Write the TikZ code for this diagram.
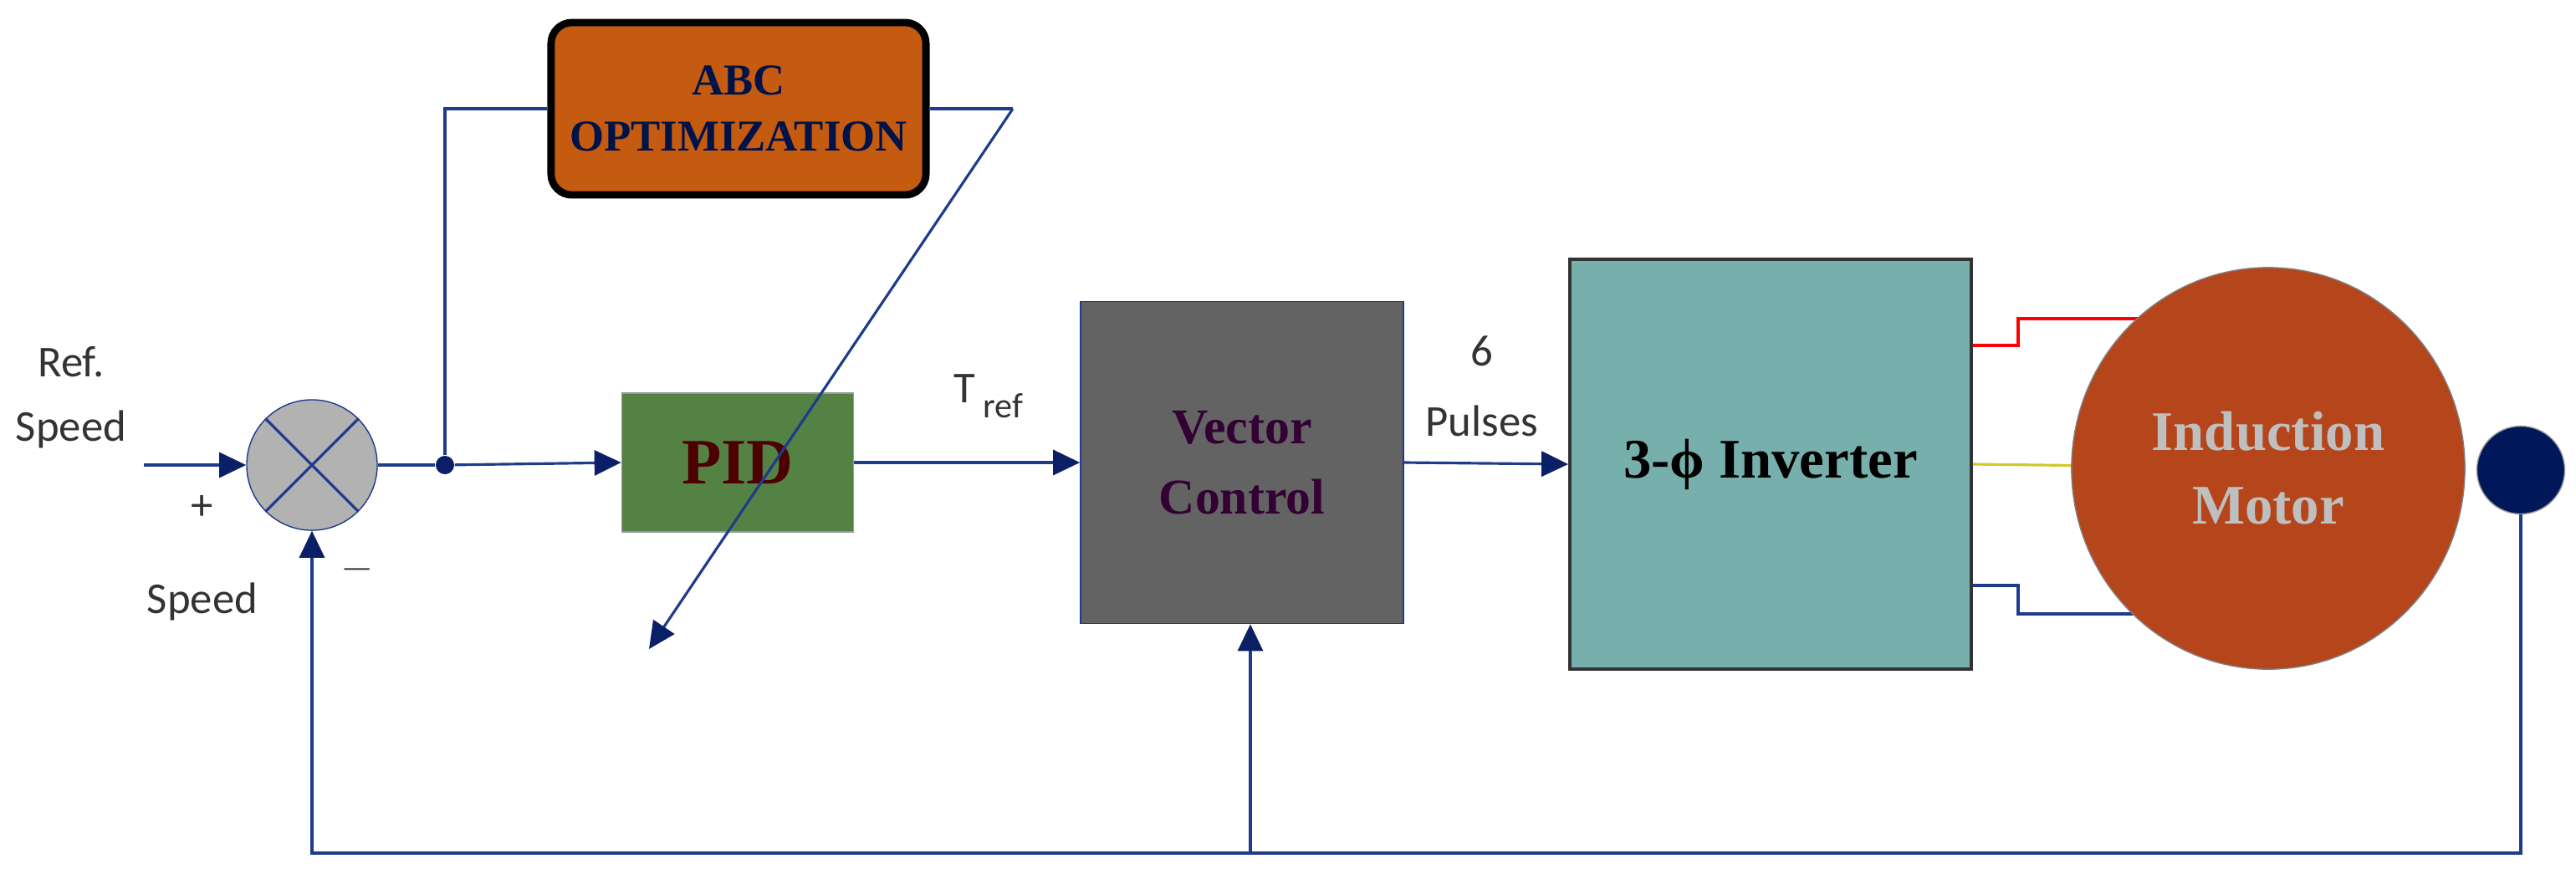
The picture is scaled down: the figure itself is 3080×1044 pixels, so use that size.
\documentclass[tikz,border=0pt]{standalone}
\usepackage{fontspec}
\setmainfont{Carlito}
\newfontfamily\blkfont{Liberation Serif}
\usetikzlibrary{arrows.meta,shapes.geometric}
\definecolor{linec}{HTML}{1F3B8C}
\definecolor{tipc}{HTML}{0A1F66}
\definecolor{abcfill}{HTML}{C55A11}
\definecolor{pidfill}{HTML}{538244}
\definecolor{vcfill}{HTML}{636363}
\definecolor{invfill}{HTML}{77AFAD}
\definecolor{motfill}{HTML}{B5461C}
\definecolor{dotfill}{HTML}{00185A}
\tikzset{
  sig/.style={draw=linec,line width=0.9pt},
  arr/.style={sig,-{Triangle[length=0.32cm,width=0.3cm,color=tipc]}},
  lbl/.style={font=\fontsize{15}{20}\selectfont,text=black!80,align=center,inner sep=0pt},
  block/.style={draw,inner sep=0pt,align=center,font=\blkfont\bfseries}
}
\begin{document}
\begin{tikzpicture}[x=0.01cm,y=-0.01cm]
 \useasboundingbox (0,0) rectangle (3080,1044);
 % blocks
 \node [circle,draw=linec,fill=black!30,minimum size=1.56cm,inner sep=0pt] (sum) at (373,556) {};
 \draw [linec,line width=0.9pt] (sum.45) -- (sum.225) (sum.135) -- (sum.315);
 \node [circle,fill=tipc,minimum size=0.22cm,inner sep=0pt] (jn) at (532,556) {};
 \node [block,fill=abcfill,rounded corners=0.25cm,line width=2.5pt,minimum width=4.48cm,minimum height=2.06cm,
        font=\blkfont\bfseries\fontsize{15}{19}\selectfont,text=dotfill!80!black] (abc) at (883,130) {ABC\\OPTIMIZATION};
 \node [block,draw=black!40,fill=pidfill,minimum width=2.77cm,minimum height=1.66cm,
        font=\blkfont\bfseries\fontsize{22}{26}\selectfont,text=black!70!red] (pid) at (882,553) {PID};
 \node [block,draw=linec,fill=vcfill,minimum width=3.86cm,minimum height=3.85cm,
        font=\blkfont\bfseries\fontsize{17}{24}\selectfont,text=violet!40!black] (vc) at (1485,553) {Vector\\Control};
 \node [block,draw=black!80,line width=1pt,fill=invfill,minimum width=4.8cm,minimum height=4.9cm,
        font=\blkfont\bfseries\fontsize{19}{24}\selectfont] (inv) at (2117,555) {3-ϕ Inverter};
 % three phase wires
 \draw [red,line width=0.9pt] (inv.east |- 0,413) -| (2413,381) -- (2600,381);
 \draw [yellow!80!black,line width=0.9pt] (inv.east) -- (2600,558);
 \draw [linec,line width=0.9pt] (inv.east |- 0,700) -| (2413,734) -- (2600,734);
 \node [ellipse,draw=black!50,fill=motfill,minimum width=4.7cm,minimum height=4.8cm,inner sep=0pt,align=center,
        font=\blkfont\bfseries\fontsize{19}{25}\selectfont,text=black!25] (mot) at (2712,560) {Induction\\Motor};
 \node [circle,draw=black!40,fill=dotfill,minimum size=1.05cm,inner sep=0pt] (spd) at (3014,562) {};
 % labels
 \node [lbl] (refl) at (85,475) {Ref.\\[2pt]Speed};
 \node [lbl] (plus) at (242,607) {+};
 \node [lbl] (minus) at (427,681) {$-$};
 \node [lbl] (fbl) at (242,719) {Speed};
 \node [lbl] (trefl) at (1182,474) {T\,\raisebox{-0.7ex}{\fontsize{12}{14}\selectfont ref}};
 \node [lbl] (pulsel) at (1772,462) {6\\[4pt]Pulses};
 % signals
 \coordinate (in) at (172,556);
 \coordinate (tune) at (1211,130);
 \coordinate (tip) at (776,776);
 \coordinate (fb) at (1495,1020);
 \draw [arr] (in) -- (sum.west);
 \draw [sig] (sum.east) -- (jn);
 \draw [arr] (jn) -- (pid.west);
 \draw [arr] (pid.east) -- (vc.west);
 \draw [arr] (vc.east) -- (inv.west);
 \draw [sig] (jn) |- (abc.west);
 \draw [sig] (abc.east) -- (tune);
 \draw [arr] (tune) -- (tip);
 \draw [arr] (spd.south) |- (sum.south |- fb) -- (sum.south);
 \draw [arr] (fb) -- (fb |- vc.south);
\end{tikzpicture}
\end{document}
